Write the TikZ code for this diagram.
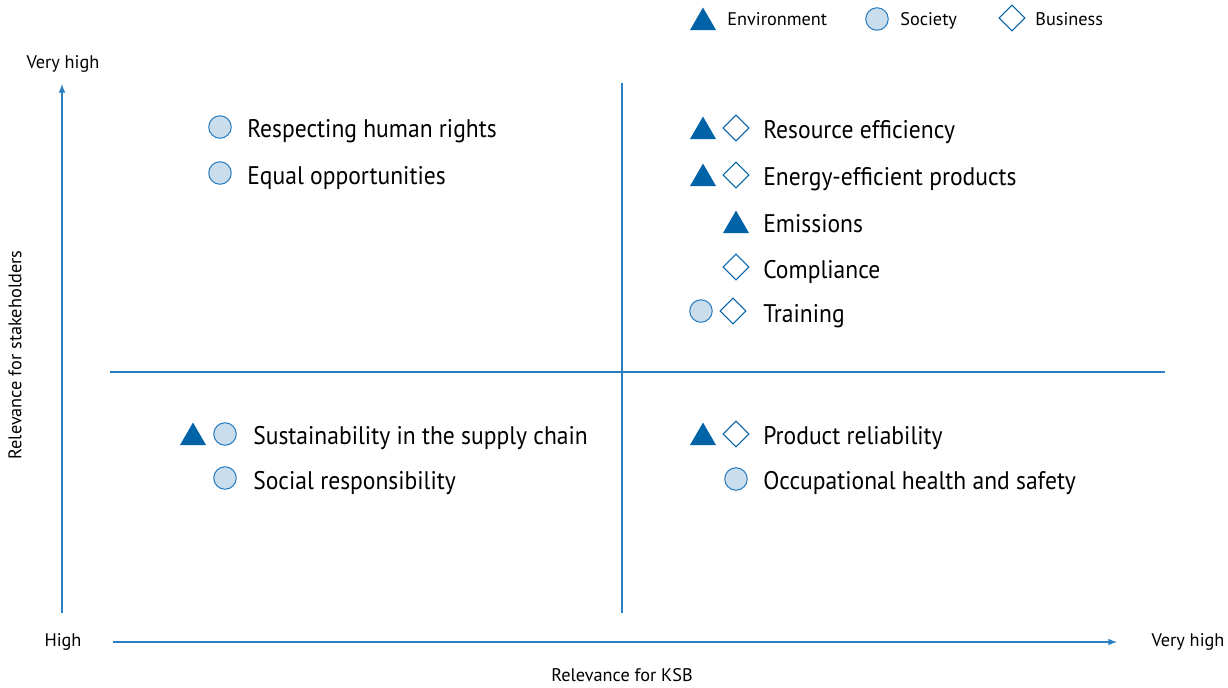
\documentclass[tikz,border=0pt]{standalone}
\usepackage{fontspec}
\setmainfont{PT Sans}
\newfontfamily\itemfont[FakeStretch=0.925]{PT Sans}
\usetikzlibrary{shapes.geometric}
\definecolor{ksbblue}{HTML}{0063A7}
\definecolor{ksbline}{HTML}{2A7DC0}
\definecolor{ksblight}{HTML}{CADDEC}

\begin{document}
\begin{tikzpicture}[x=0.02cm,y=-0.02cm,
	env/.style={regular polygon,regular polygon sides=3,fill=ksbblue,inner sep=0,minimum size=0.6cm,yshift=-0.07cm},
	soc/.style={circle,draw=ksbline,fill=ksblight,inner sep=0,minimum size=0.45cm,line width=0.6pt},
	bus/.style={diamond,draw=ksbblue,inner sep=0,minimum size=0.52cm,line width=0.6pt},
	item/.style={anchor=base west,inner sep=0,font=\itemfont\fontsize{14.5}{17}\selectfont},
	small/.style={inner sep=0,font=\fontsize{10.4}{12}\selectfont},
	axis/.style={draw=ksbline,line width=0.7pt}]
	\useasboundingbox (0,0) rectangle (1228,687);
	\coordinate (Y0) at (62,613);
	\coordinate (Y1) at (62,84);
	\coordinate (X0) at (113,642);
	\coordinate (X1) at (1117,642);
	\coordinate (V0) at (622,83);
	\coordinate (V1) at (622,613);
	\coordinate (H0) at (110,372);
	\coordinate (H1) at (1165,372);
	\draw[axis,-latex] (Y0) -- (Y1);
	\draw[axis,-latex] (X0) -- (X1);
	\draw[axis] (V0) -- (V1);
	\draw[axis] (H0) -- (H1);

	% axis labels
	\node[small] (ytop) at (63,64) {Very high};
	\node[small] (ybot) at (63,642) {High};
	\node[small] (xtop) at (1188,642) {Very high};
	\node[small] (xlab) at (622,675) {Relevance for KSB};
	\node[small,rotate=90] (ylab) at (15,355) {Relevance for stakeholders};

	% legend
	\node[env] (lenv) at (703,19) {};
	\node[small,anchor=base west] (tenv) at (727,25) {Environment};
	\node[soc] (lsoc) at (877,19) {};
	\node[small,anchor=base west] (tsoc) at (900,25) {Society};
	\node[bus] (lbus) at (1012,18) {};
	\node[small,anchor=base west] (tbus) at (1035,25) {Business};

	% upper left
	\node[soc] (rights) at (220,127) {};
	\node[item] (trights) at (247,137) {Respecting human rights};
	\node[soc] (equal) at (220,173) {};
	\node[item] (tequal) at (247,184) {Equal opportunities};

	% upper right
	\node[env] (res1) at (703,128) {};
	\node[bus] (res2) at (736,128) {};
	\node[item] (tres) at (763,138) {Resource efficiency};
	\node[env] (prod1) at (703,175) {};
	\node[bus] (prod2) at (736,175) {};
	\node[item] (tprod) at (763,185) {Energy-efficient products};
	\node[env] (emis) at (736,222) {};
	\node[item] (temis) at (763,232) {Emissions};
	\node[bus] (compl) at (736,267) {};
	\node[item] (tcompl) at (763,278) {Compliance};
	\node[soc] (train1) at (701,311) {};
	\node[bus] (train2) at (733,311) {};
	\node[item] (ttrain) at (763,322) {Training};

	% lower left
	\node[env] (supp1) at (193,434) {};
	\node[soc] (supp2) at (225,434) {};
	\node[item] (tsupp) at (253,444) {Sustainability in the supply chain};
	\node[soc] (social) at (225,478) {};
	\node[item] (tsocial) at (253,489) {Social responsibility};

	% lower right
	\node[env] (rel1) at (703,434) {};
	\node[bus] (rel2) at (736,434) {};
	\node[item] (trel) at (763,444) {Product reliability};
	\node[soc] (health) at (736,479) {};
	\node[item] (thealth) at (763,489) {Occupational health and safety};
\end{tikzpicture}
\end{document}
